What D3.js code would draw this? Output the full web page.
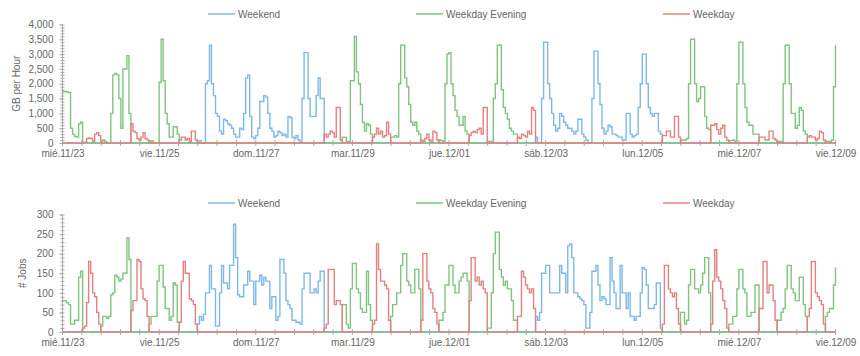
<!DOCTYPE html>
<html><head><meta charset="utf-8">
<script src="https://cdn.jsdelivr.net/npm/d3@7"></script>
<style>body{margin:0;background:#fff}svg{display:block}text{font-family:"Liberation Sans",Arial,sans-serif}</style>
</head><body><svg id="c" width="860" height="356"></svg>
<script>
// ---- data ----
const seriesNames = ["Weekend", "Weekday Evening", "Weekday"];
const seriesColors = ["#7fb8e8", "#80c480", "#e68080"];
const xTickLabels = ["mié.11/23","vie.11/25","dom.11/27","mar.11/29","jue.12/01","sáb.12/03","lun.12/05","mié.12/07","vie.12/09"];
// category periods (hour index from mié 11/23 00:00); W=Weekend, E=Weekday Evening, D=Weekday
const periodStart = [0,10,19,34,43,58,67,130,139,154,163,178,187,202,211,226,235,298,307,322,331,346,355,370,379];
const periodType  = ["E","D","E","D","E","D","W","D","E","D","E","D","E","D","E","D","W","D","E","D","E","D","E","D","E"];
const gbTicks = [0,500,1000,1500,2000,2500,3000,3500,4000];
const jobTicks = [0,50,100,150,200,250,300];

const gbPerHour = [
1740,1740,1720,1700,500,300,220,200,650,700,
30,20,150,170,150,60,300,350,250,
50,100,50,0,0,1000,2300,2350,2300,1500,500,2500,2500,2950,1000,
650,400,350,150,100,200,350,150,100,
50,80,20,0,0,2050,3500,2100,1000,650,200,200,550,550,300,
100,200,200,100,150,50,400,400,100,
0,80,0,0,2000,2100,3300,2000,1600,1000,900,400,300,800,750,650,600,500,300,200,200,500,450,1000,2200,2300,900,200,150,250,500,1400,1400,1600,1550,1000,500,400,200,250,400,350,250,300,200,900,850,200,150,250,100,
50,1500,3050,3050,1500,900,900,900,1600,2200,1500,1500,
300,200,300,400,350,200,1200,1200,100,
200,200,50,50,2100,2100,3600,2400,2000,1300,700,400,650,600,300,
200,300,500,300,400,200,250,700,300,
200,200,250,200,2000,3300,3300,2200,1900,1300,700,600,700,400,300,
100,50,150,300,100,50,400,350,100,
100,80,50,2000,3000,3050,2000,1600,1100,900,600,600,900,400,300,
250,350,400,350,450,500,300,1200,1200,
50,50,50,1500,2000,3300,3300,1800,1200,1000,800,500,400,300,300,
200,150,300,250,200,400,300,1200,1100,
200,0,0,1500,3400,3400,2000,1500,1000,600,400,500,
1000,900,700,600,500,500,400,300,400,800,800,300,200,100,0,0,1500,3100,3100,2000,1300,500,300,400,600,550,300,300,250,200,200,100,100,1000,1000,300,200,250,300,1200,2000,3000,3000,2000,1200,1000,900,1000,1000,400,300,
250,250,400,400,200,200,900,900,200,
100,100,100,150,2000,3500,3500,2000,1400,1500,1900,1900,900,500,450,
600,600,650,450,300,500,600,200,100,
80,80,100,50,2000,3400,3400,2000,1200,700,600,600,300,300,300,
200,200,200,100,100,400,400,150,100,
50,50,50,2000,3300,3300,2000,1000,1000,500,600,1200,1100,400,300,
200,250,200,200,100,150,400,350,100,
50,50,50,100,1900,3300
];

const jobsPerHour = [
80,80,75,70,20,20,30,30,140,155,
10,15,75,180,150,100,90,50,20,
15,40,40,35,40,95,100,145,140,130,135,150,150,240,185,
55,80,80,185,180,110,85,80,40,
20,40,40,40,130,170,170,115,60,60,30,40,125,120,25,
25,130,180,150,150,85,80,70,20,
20,40,30,45,100,100,170,110,110,15,15,100,170,125,125,110,170,170,275,190,95,90,90,120,120,155,130,130,70,130,130,145,120,140,130,130,60,90,90,30,40,185,185,
150,80,70,60,30,30,25,25,20,110,150,150,150,100,100,110,100,130,155,155,
10,20,160,160,160,70,80,80,70,
70,70,20,10,110,175,175,110,100,60,50,50,155,70,30,
20,30,225,160,130,130,120,110,30,
40,70,70,100,100,170,200,200,130,120,100,100,160,160,110,
30,200,200,130,110,100,60,50,20,
30,30,50,120,120,170,170,120,100,100,130,140,150,150,130,
80,190,190,130,140,120,130,110,100,
10,10,100,200,255,255,160,140,120,130,110,110,80,30,30,
40,40,155,140,120,110,100,110,60,
40,30,50,150,150,170,170,100,100,100,100,100,170,150,150,100,220,225,190,100,100,
90,85,80,70,10,10,50,155,155,170,120,80,90,85,70,70,190,130,100,60,60,170,100,100,60,100,40,40,30,40,40,100,165,160,120,60,60,60,70,125,125,10,
20,170,170,110,100,90,100,60,20,
50,50,20,30,120,160,160,110,110,100,120,150,190,190,100,
20,130,210,140,130,110,80,60,10,
20,20,40,40,110,160,160,110,100,40,40,50,50,120,120,
60,60,180,180,100,120,120,80,30,
30,30,50,60,110,170,170,110,100,80,80,140,140,70,40,
40,60,180,180,100,90,80,70,20,
40,50,60,60,120,165
];

// ---- build ----
const nH = gbPerHour.length - 1; // 384
function catAt(h){ let t = periodType[0]; for(let i=0;i<periodStart.length;i++){ if(h>=periodStart[i]) t=periodType[i]; } return t; }
const codes = ["W","E","D"];
function seriesFor(vals, code){ return vals.map((v,h)=>({h, v: catAt(h)===code ? v : 0})); }

const svg = d3.select("#c");
const x = d3.scaleLinear().domain([0, nH]).range([62.5, 835.5]);
const grey = "#666", axisCol = "#aaa";

function panel(vals, yMax, yTop, yBottom, ticks, minorStep, fmt, title, titleX, legendY){
  const y = d3.scaleLinear().domain([0, yMax]).range([yBottom, yTop]);
  const g = svg.append("g");
  // y axis line
  g.append("line").attr("x1",x(0)).attr("x2",x(0)).attr("y1",y(yMax)).attr("y2",y(0)).attr("stroke",axisCol);
  d3.range(0, yMax+0.001, minorStep).forEach(v=>{
    g.append("line").attr("x1",x(0)-2).attr("x2",x(0)+2).attr("y1",y(v)+0.5).attr("y2",y(v)+0.5).attr("stroke",axisCol);
  });
  const ya = d3.axisLeft(y).tickValues(ticks).tickFormat(fmt).tickSize(3).tickPadding(6);
  const yg = g.append("g").attr("transform",`translate(${x(0)},0)`).call(ya);
  yg.select(".domain").remove();
  yg.selectAll("line").attr("stroke",axisCol);
  yg.selectAll("text").attr("fill",grey).style("font-size","10px");
  // x axis
  g.append("line").attr("x1",x(0)).attr("x2",x(nH)).attr("y1",y(0)).attr("y2",y(0)).attr("stroke",axisCol);
  d3.range(0, nH+0.01, 9.6).forEach(h=>{
    g.append("line").attr("x1",x(h)).attr("x2",x(h)).attr("y1",y(0)-3).attr("y2",y(0)+3).attr("stroke",axisCol);
  });
  const xa = d3.axisBottom(x).tickValues(d3.range(0, nH+1, 48)).tickFormat((d,i)=>xTickLabels[i]).tickSize(0).tickPadding(7);
  const xg = g.append("g").attr("transform",`translate(0,${y(0)})`).call(xa);
  xg.select(".domain").remove();
  xg.selectAll("text").attr("fill",grey).style("font-size","10px");
  // title
  g.append("text").attr("transform",`translate(${titleX},${(y(yMax)+y(0))/2}) rotate(-90)`)
    .attr("text-anchor","middle").attr("fill",grey).style("font-size","10px").text(title);
  // lines
  const line = d3.line().x(d=>x(d.h)).y(d=>y(d.v)).curve(d3.curveStepAfter);
  codes.forEach((c,i)=>{
    g.append("path").datum(seriesFor(vals,c)).attr("d",line).attr("fill","none")
      .attr("stroke",seriesColors[i]).attr("stroke-width",1.4);
  });
  // legend
  const lx = [208, 416, 663];
  seriesNames.forEach((n,i)=>{
    g.append("line").attr("x1",lx[i]).attr("x2",lx[i]+27).attr("y1",legendY).attr("y2",legendY)
      .attr("stroke",seriesColors[i]).attr("stroke-width",1.5);
    g.append("text").attr("x",lx[i]+30).attr("y",legendY+3.5).attr("fill",grey).style("font-size","10px").text(n);
  });
}

panel(gbPerHour, 4000, 24.5, 143, gbTicks, 100, d3.format(","), "GB per Hour", 20, 14);
panel(jobsPerHour, 300, 214.5, 332, jobTicks, 10, d3.format(","), "# Jobs", 26, 203);
</script></body></html>
